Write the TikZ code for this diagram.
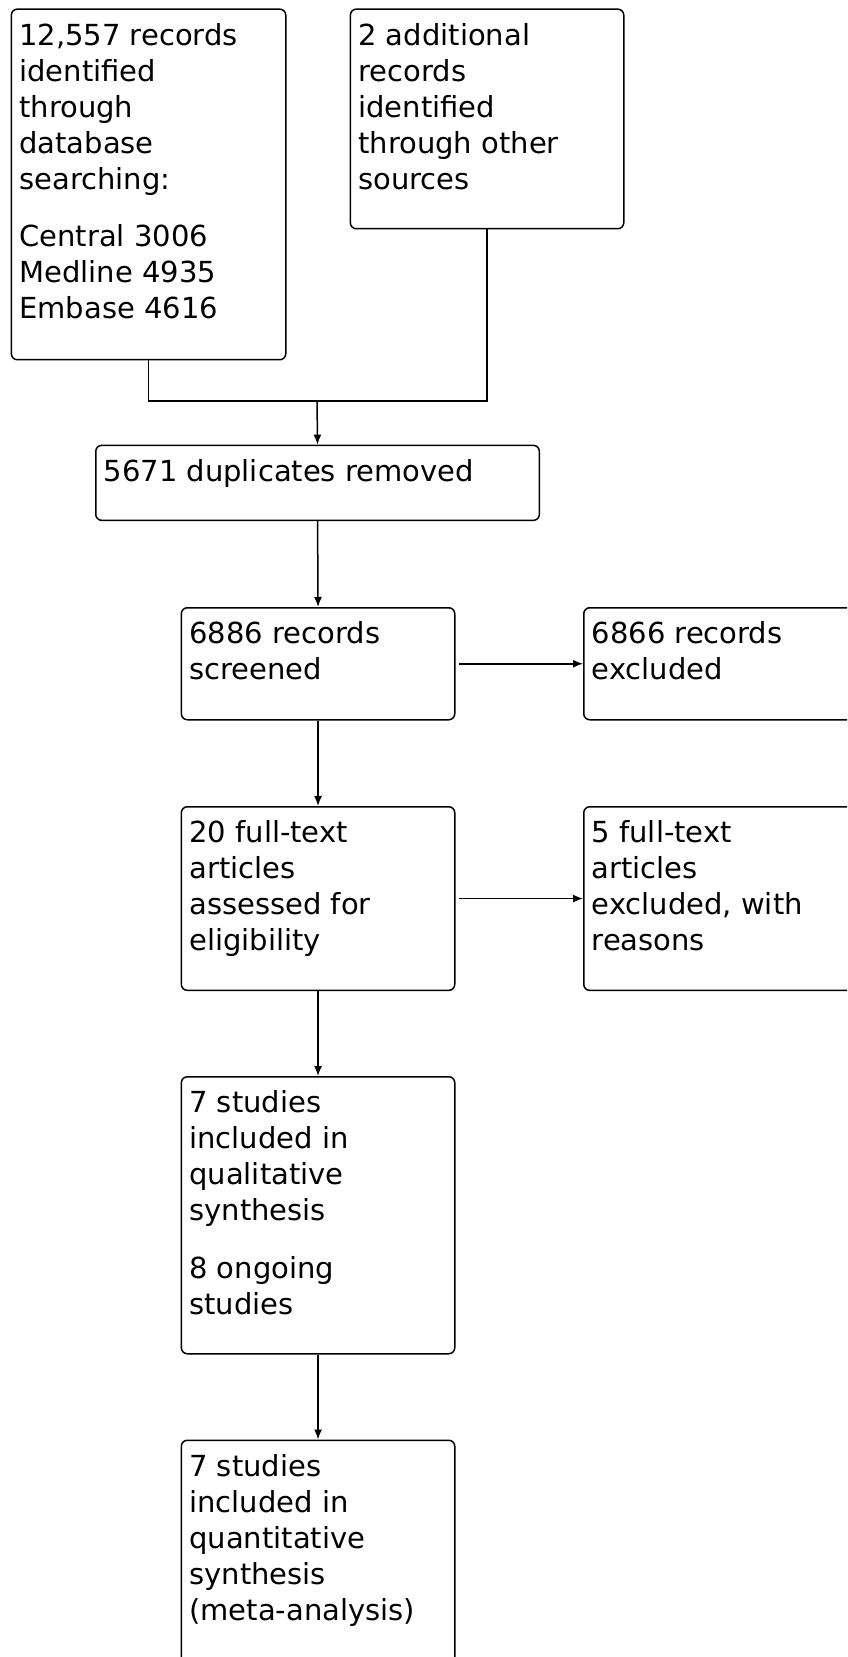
\documentclass[tikz,border=0pt]{standalone}
\usepackage{fontspec}
\setmainfont{DejaVu Sans}
\usetikzlibrary{arrows.meta}
\newcommand{\boxtext}[3]{\begin{minipage}[t][#2pt][t]{#1pt}\raggedright #3\end{minipage}}
\tikzset{
  flow/.style={draw, line width=0.75pt, rounded corners=3pt, anchor=north west,
    inner xsep=4pt, inner ysep=7pt, font=\fontsize{14.5}{18}\selectfont},
  arr/.style={-{Latex[length=5pt,width=4pt]}, line width=0.75pt}
}
\begin{document}
\begin{tikzpicture}[x=0.5pt, y=-0.5pt]
\useasboundingbox (0,0) rectangle (847,1657);
\clip (0,0) rectangle (847,1657);

\node[flow] (rec) at (10.6,8.4) {\boxtext{129.2}{161.3}{12,557 records\\identified\\through\\database\\searching:\\[10.8pt]Central 3006\\Medline 4935\\Embase 4616}};
\node[flow] (oth) at (349.6,8.4) {\boxtext{128.7}{95.8}{2 additional\\records\\identified\\through other\\sources}};
\node[flow] (dup) at (95,444.6) {\boxtext{213.8}{23.5}{5671 duplicates removed}};
\node[flow] (scr) at (180.6,607) {\boxtext{128.7}{42}{6886 records\\screened}};
\node[flow] (exc) at (583,607) {\boxtext{128.7}{42}{6866 records\\excluded}};
\node[flow] (full) at (180.6,806) {\boxtext{128.7}{77.8}{20 full-text\\articles\\assessed for\\eligibility}};
\node[flow] (fex) at (583,806) {\boxtext{128.7}{77.8}{5 full-text\\articles\\excluded, with\\reasons}};
\node[flow] (qual) at (180.6,1076) {\boxtext{128.7}{124.5}{7 studies\\included in\\qualitative\\synthesis\\[10.8pt]8 ongoing\\studies}};
\node[flow] (quan) at (180.6,1439.5) {\boxtext{128.7}{106}{7 studies\\included in\\quantitative\\synthesis\\(meta-analysis)}};

\coordinate (join) at (317,401);
\draw[line width=0.75pt] (rec.south) |- (join) -| (oth.south);
\draw[arr] (join) -- (dup.north);
\draw[arr] (dup.south) -- (scr.north);
\draw[arr] (scr.south) -- (full.north);
\draw[arr] (full.south) -- (qual.north);
\draw[arr] (qual.south) -- (quan.north);
\draw[arr, shorten <=1.5pt] (scr.east) -- (exc.west);
\draw[arr, shorten <=1.5pt] (full.east) -- (fex.west);
\end{tikzpicture}
\end{document}
